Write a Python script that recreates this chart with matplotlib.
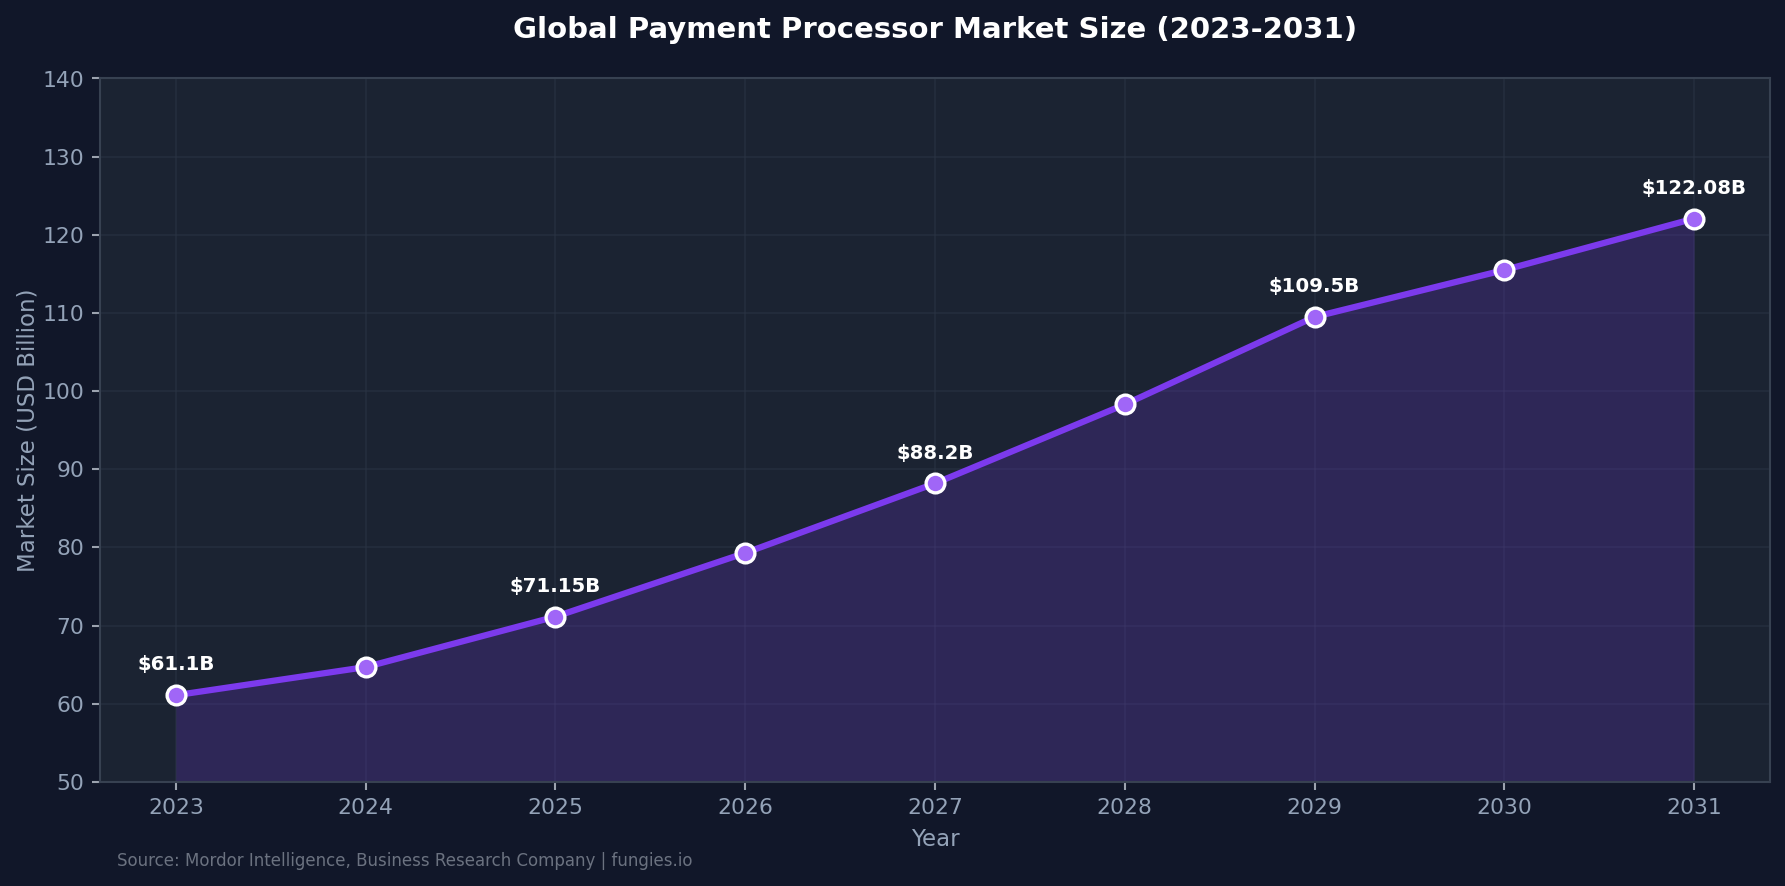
import matplotlib
matplotlib.use("Agg")
import matplotlib.pyplot as plt

years = [2023, 2024, 2025, 2026, 2027, 2028, 2029, 2030, 2031]
market_size = [61.1, 64.7, 71.15, 79.3, 88.2, 98.3, 109.5, 115.5, 122.08]
label_years = [2023, 2025, 2027, 2029, 2031]
label_texts = ["$61.1B", "$71.15B", "$88.2B", "$109.5B", "$122.08B"]

FIG_BG = "#111729"
AX_BG = "#1b2332"
LINE = "#7c3aed"
MARKER = "#a066f7"
TICK = "#94a3b8"
SPINE = "#374151"

plt.rcParams['font.family'] = ['DejaVu Sans']
fig = plt.figure(figsize=(11.9, 5.9067), dpi=150, facecolor=FIG_BG)
ax = fig.add_axes([0.056, 0.1174, 0.9356, 0.794])
ax.set_facecolor(AX_BG)

ax.fill_between(years, market_size, 50, color=LINE, alpha=0.2, linewidth=0, zorder=2)
ax.plot(years, market_size, color=LINE, lw=3, marker='o', ms=9,
        markerfacecolor=MARKER, markeredgecolor='white', markeredgewidth=1.6, zorder=4)

for yr, txt in zip(label_years, label_texts):
    v = market_size[years.index(yr)]
    ax.annotate(txt, (yr, v), xytext=(0, 10), textcoords='offset points',
                ha='center', va='bottom', color='white', fontsize=9.5,
                fontweight='bold', zorder=5)

ax.set_xlim(2022.6, 2031.4)
ax.set_ylim(50, 140)
ax.set_xticks(years)
ax.set_yticks(range(50, 141, 10))
ax.grid(True, color='#2a3444', alpha=0.6, lw=0.8, zorder=0)
ax.set_axisbelow(True)
for s in ax.spines.values():
    s.set_color(SPINE)
    s.set_linewidth(1)
ax.tick_params(colors=TICK, labelsize=10.5, length=4, width=1)
ax.tick_params(axis='both', color='#9ca3af')
ax.set_xlabel("Year", color=TICK, fontsize=11, labelpad=5)
ax.set_ylabel("Market Size (USD Billion)", color=TICK, fontsize=11, labelpad=1.5)

fig.text(0.5238, 0.9664, "Global Payment Processor Market Size (2023-2031)",
         ha='center', va='center', color='white', fontsize=14, fontweight='bold')
fig.text(0.0655, 0.028, "Source: Mordor Intelligence, Business Research Company | fungies.io",
         ha='left', va='center', color='#6b7280', fontsize=8)

fig.savefig("out.png", dpi=150, facecolor=FIG_BG)
